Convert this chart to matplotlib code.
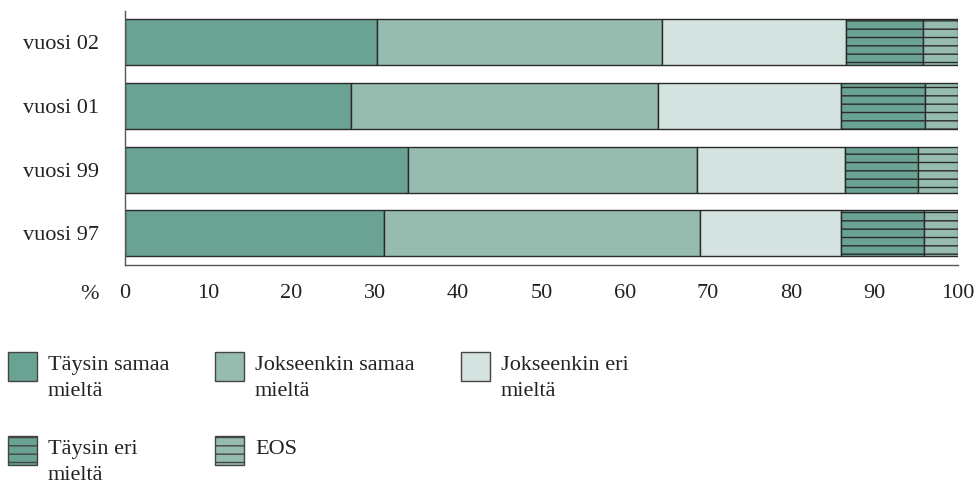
import matplotlib.pyplot as plt
from matplotlib.patches import Rectangle

plt.rcParams['font.family'] = ['Liberation Serif', 'DejaVu Serif']
plt.rcParams['hatch.linewidth'] = 1.0

years = ['vuosi 97', 'vuosi 99', 'vuosi 01', 'vuosi 02']
labels = ['Täysin samaa\nmieltä', 'Jokseenkin samaa\nmieltä', 'Jokseenkin eri\nmieltä',
          'Täysin eri\nmieltä', 'EOS']

# percentages per year (97, 99, 01, 02)
taysin_samaa = [31.1, 34.0, 27.1, 30.2]
jokseenkin_samaa = [37.9, 34.7, 36.9, 34.3]
jokseenkin_eri = [17.0, 17.7, 22.0, 22.0]
taysin_eri = [9.9, 8.8, 10.0, 9.3]
eos = [4.1, 4.8, 4.0, 4.2]
ticks = [0, 10, 20, 30, 40, 50, 60, 70, 80, 90, 100]

series = [taysin_samaa, jokseenkin_samaa, jokseenkin_eri, taysin_eri, eos]
colors = ['#6aa294', '#96bcb0', '#d4e3e0', '#6aa294', '#96bcb0']
hatches = [None, None, None, '--', '--']

fig = plt.figure(figsize=(9.78, 4.87), dpi=100)
W, H = 978, 487
ax = fig.add_axes([125 / W, 1 - 265 / H, 833 / W, 254 / H])

left = [0] * len(years)
for vals, c, h in zip(series, colors, hatches):
    ax.barh(range(len(years)), vals, left=left, height=0.72, color=c,
            edgecolor='#2a2a2a', linewidth=1.0, hatch=h)
    left = [a + b for a, b in zip(left, vals)]

fs = 16
ax.set_xlim(0, 100)
ax.set_ylim(-0.494, 3.486)
ax.set_yticks(range(len(years)))
ax.set_yticklabels(years)
ax.set_xticks(ticks)
ax.tick_params(axis='both', length=0, labelsize=fs, colors='#222222')
ax.tick_params(axis='x', pad=14)
ax.tick_params(axis='y', pad=19)
for s in ['top', 'right']:
    ax.spines[s].set_visible(False)
for s in ['left', 'bottom']:
    ax.spines[s].set_color('#555555')
    ax.spines[s].set_linewidth(1.0)

fig.text(90 / W, 1 - 299 / H, '%', fontsize=fs, ha='center', va='baseline', color='#222222')

# legend drawn by hand in a 3-column grid
cols_x = [8, 215, 461]
rows_y = [352, 436]
for i, (lab, c, h) in enumerate(zip(labels, colors, hatches)):
    px = cols_x[i % 3]
    py = rows_y[i // 3]
    fig.add_artist(Rectangle((px / W, 1 - (py + 29) / H), 29 / W, 29 / H,
                             transform=fig.transFigure, facecolor=c,
                             edgecolor='#444444', linewidth=1.0, hatch=h))
    for j, line in enumerate(lab.split('\n')):
        fig.text((px + 40) / W, 1 - (py + 18 + 26 * j) / H, line, fontsize=fs,
                 ha='left', va='baseline', color='#222222')

fig.savefig('out.png', dpi=100)
